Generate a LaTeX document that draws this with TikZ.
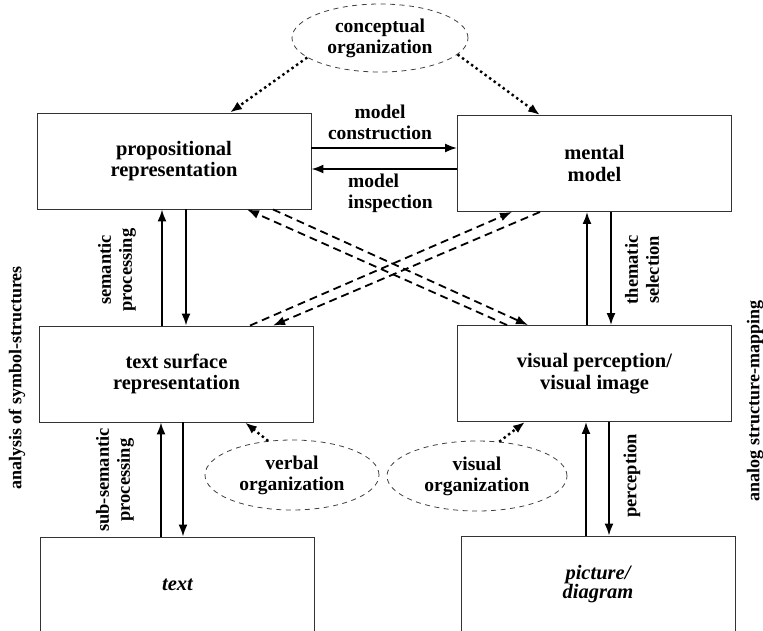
\documentclass[tikz,border=0pt]{standalone}
\usepackage{fontspec}
\setmainfont{Liberation Serif}
\usetikzlibrary{arrows.meta,shapes.geometric}

\begin{document}
\begin{tikzpicture}[x=1pt, y=-1pt, >={Latex[length=12pt,width=9pt]},
    box/.style={draw=black!80, line width=0.9pt, minimum width=274pt, minimum height=96pt,
      align=center, font=\fontsize{20.5}{21.5}\selectfont\bfseries},
    itbox/.style={box, font=\fontsize{20.5}{19}\selectfont\bfseries\itshape},
    org/.style={ellipse, draw=black!75, line width=0.8pt, dash pattern=on 5pt off 4.5pt,
      minimum width=176pt, minimum height=68pt, align=center,
      font=\fontsize{19.5}{21}\selectfont\bfseries},
    lbl/.style={align=center, font=\fontsize{19.5}{21}\selectfont\bfseries},
    vlbl/.style={align=center, rotate=90, font=\fontsize{18.5}{21}\selectfont\bfseries},
    sidelbl/.style={rotate=90, font=\fontsize{18}{20}\selectfont\bfseries},
    flow/.style={->, line width=1.8pt},
    dotflow/.style={->, line width=2.4pt, dash pattern=on 2.4pt off 3.2pt},
    dashflow/.style={->, line width=1.8pt, dash pattern=on 8pt off 5pt}]

    \useasboundingbox (0,0) rectangle (763,630);
    \clip (0,0) rectangle (763,630);

    % Boxes
    \node[box] (prop) at (174,161) {propositional\\representation};
    \node[box] (mental) at (594.5,163.5) {mental\\model};
    \node[box] (surface) at (176.5,374) {text surface\\representation};
    \node[box] (visual) at (594.5,373.5) {visual perception/\\visual image};
    \node[itbox] (text) at (177.5,585) {text};
    \node[itbox] (picture) at (598,584) {picture/\\diagram};

    % Organization ellipses
    \node[org] (concept) at (380,38) {conceptual\\organization};
    \node[org, minimum width=174pt, minimum height=70pt] (verbal) at (292,475) {verbal\\organization};
    \node[org, minimum width=180pt, minimum height=70pt] (visorg) at (477,476) {visual\\organization};

    % Labels
    \node[lbl] (construct) at (380,122) {model\\construction};
    \node[lbl, align=left] (inspect) at (390.5,193) {model\\inspection};
    \node[vlbl] (sem) at (117,270) {semantic\\processing};
    \node[vlbl] (thema) at (642,270) {thematic\\selection};
    \node[vlbl] (subsem) at (115,480) {sub-semantic\\processing};
    \node[vlbl] (percep) at (632,476) {perception};
    \node[sidelbl] (symb) at (17,378) {analysis of symbol-structures};
    \node[sidelbl] (analog) at (755,401) {analog structure-mapping};

    % Model construction / inspection
    \coordinate (mc) at ([yshift=13pt]prop.east);
    \coordinate (mi) at ([yshift=-5.5pt]mental.west);
    \draw[flow] (mc) -- (mc -| mental.west);
    \draw[flow] (mi) -- (mi -| prop.east);

    % Vertical processing arrows
    \coordinate (su) at ([xshift=-12pt]prop.south);
    \coordinate (sd) at ([xshift=12pt]prop.south);
    \draw[flow] (su |- surface.north) -- (su);
    \draw[flow] (sd) -- (sd |- surface.north);

    \coordinate (tu) at ([xshift=-7.5pt]mental.south);
    \coordinate (td) at ([xshift=16.5pt]mental.south);
    \draw[flow] (tu |- visual.north) -- (tu);
    \draw[flow] (td) -- (td |- visual.north);

    \coordinate (bu) at ([xshift=-15.5pt]surface.south);
    \coordinate (bd) at ([xshift=6.5pt]surface.south);
    \draw[flow] (bu |- text.north) -- (bu);
    \draw[flow] (bd) -- (bd |- text.north);

    \coordinate (pu) at ([xshift=-8.5pt]visual.south);
    \coordinate (pd) at ([xshift=14.5pt]visual.south);
    \draw[flow] (pu |- picture.north) -- (pu);
    \draw[flow] (pd) -- (pd |- picture.north);

    % Crossing dashed arrows
    \draw[dashflow] ([xshift=-87.5pt]visual.north) -- ([xshift=73pt]prop.south);
    \draw[dashflow] ([xshift=99pt]prop.south) -- ([xshift=-66.5pt]visual.north);
    \draw[dashflow] ([xshift=73.5pt]surface.north) -- ([xshift=-82.5pt]mental.south);
    \draw[dashflow] ([xshift=-54.5pt]mental.south) -- ([xshift=96.5pt]surface.north);

    % Organization arrows
    \draw[dotflow] (concept.195) -- ([xshift=56pt]prop.north);
    \draw[dotflow] (concept.-12) -- ([xshift=-54.5pt]mental.north);
    \draw[dotflow] (verbal.125) -- ([xshift=68.5pt]surface.south);
    \draw[dotflow] (visorg.57) -- ([xshift=-69.5pt]visual.south);
\end{tikzpicture}
\end{document}
